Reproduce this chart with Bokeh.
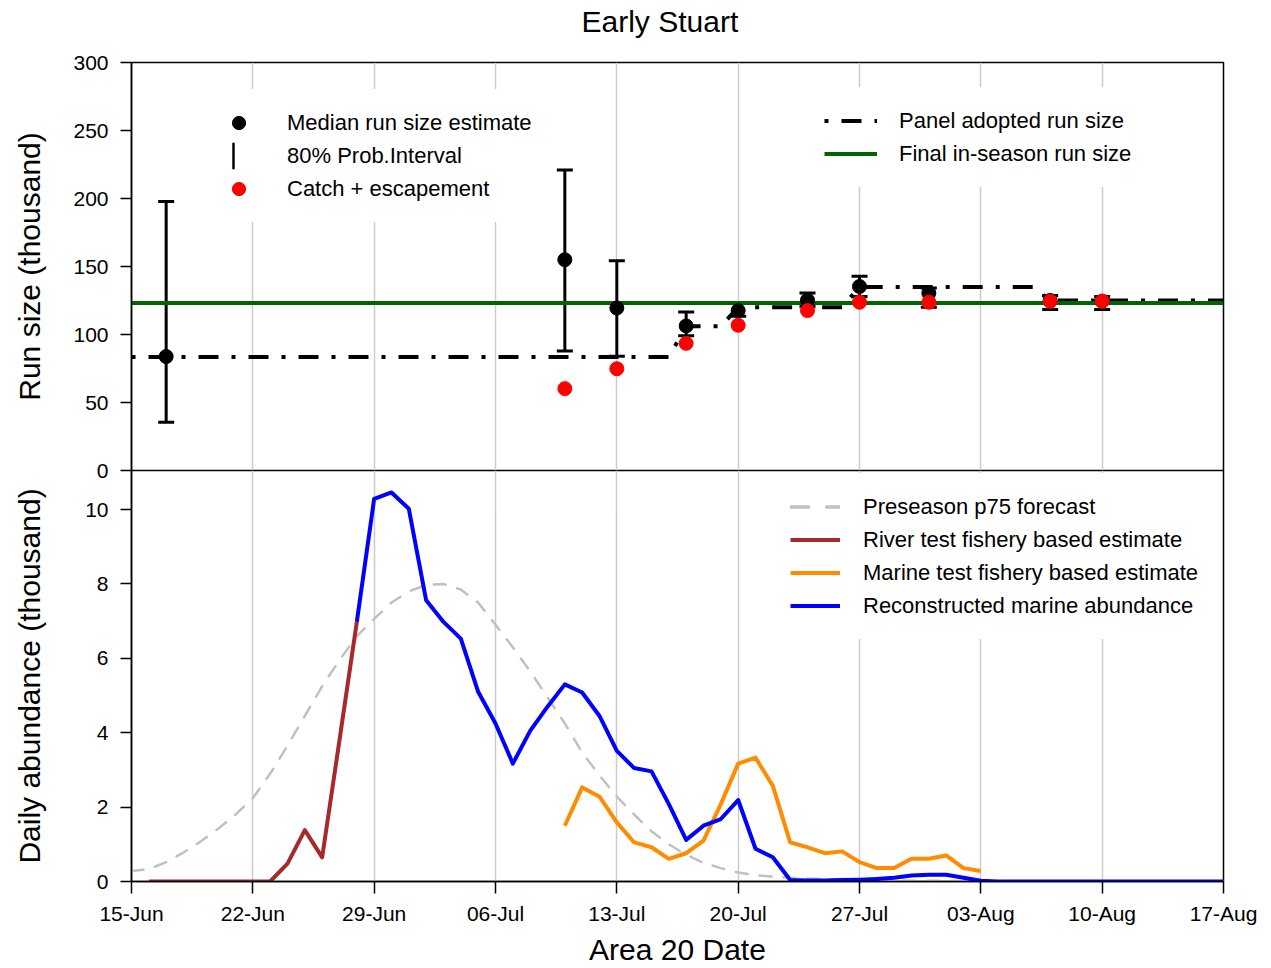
import pandas as pd
from bokeh.plotting import figure
from bokeh.layouts import column
from bokeh.models import (ColumnDataSource, Range1d, FixedTicker, DatetimeTickFormatter,
                          Whisker, TeeHead, Legend, LegendItem, Grid, Title)
from bokeh.embed import file_html
from bokeh.resources import INLINE

YEAR = 2021

# ---------------- data ----------------
week_ticks = ["06-15", "06-22", "06-29", "07-06", "07-13", "07-20",
              "07-27", "08-03", "08-10", "08-17"]
run_ticks = [0, 50, 100, 150, 200, 250, 300]
daily_ticks = [0, 2, 4, 6, 8, 10]

# top panel: run size estimates
est_dates = ["06-17", "07-10", "07-13", "07-17", "07-20", "07-24", "07-27", "07-31", "08-07", "08-10"]
median_est = [83.8, 155.0, 119.5, 106.3, 117.6, 125.2, 135.3, 130.5, 125.0, 124.5]
pi_lower = [35.4, 87.8, 84.0, 99.0, 113.5, 120.5, 128.0, 120.0, 118.3, 118.3]
pi_upper = [197.8, 221.0, 154.2, 116.6, 123.2, 130.6, 142.8, 134.2, 128.6, 128.0]

catch_dates = ["07-10", "07-13", "07-17", "07-20", "07-24", "07-27", "07-31", "08-07", "08-10"]
catch_esc = [60.2, 74.8, 93.5, 106.8, 117.6, 123.7, 123.7, 124.4, 124.4]

adopt_dates = ["06-15", "07-16", "07-17", "07-19", "07-20", "07-26", "07-27", "08-06", "08-07", "08-17"]
adopt_run = [83.4, 83.4, 106.0, 106.0, 120.0, 120.0, 135.0, 135.0, 125.0, 125.0]

final_dates = ["06-15", "08-17"]
final_run = [123.2, 123.2]

# bottom panel: daily abundance (thousand)
forecast_start = "06-15"
forecast_p75 = [0.28, 0.33, 0.52, 0.78, 1.08, 1.42, 1.80, 2.24, 2.90, 3.65, 4.45, 5.25, 5.95, 6.60,
                7.06, 7.50, 7.80, 7.97, 8.00, 7.85, 7.50, 6.90, 6.30, 5.65, 4.95, 4.25, 3.47, 2.85,
                2.28, 1.80, 1.35, 1.00, 0.72, 0.50, 0.36, 0.24, 0.17, 0.13, 0.10, 0.08, 0.06, 0.05,
                0.04, 0.03, 0.03, 0.02, 0.02, 0.02, 0.01, 0.01, 0.01, 0.01, 0.01, 0.01,
                0.0, 0.0, 0.0, 0.0, 0.0, 0.0, 0.0, 0.0, 0.0, 0.0]

river_start = "06-16"
river_est = [0.0, 0.0, 0.0, 0.0, 0.0, 0.0, 0.0, 0.0, 0.48, 1.38, 0.65, 3.80, 6.98]

marine_start = "07-10"
marine_est = [1.50, 2.53, 2.28, 1.59, 1.05, 0.92, 0.61, 0.76, 1.10, 2.08, 3.17, 3.33, 2.57,
              1.05, 0.92, 0.76, 0.81, 0.52, 0.36, 0.36, 0.61, 0.61, 0.70, 0.36, 0.28]

recon_start = "06-28"
recon_abund = [6.98, 10.29, 10.46, 10.02, 7.56, 6.98, 6.53, 5.10, 4.25, 3.17, 4.05, 4.70, 5.30,
               5.08, 4.45, 3.51, 3.05, 2.96, 2.08, 1.12, 1.50, 1.68, 2.19, 0.88, 0.65, 0.04,
               0.03, 0.03, 0.04, 0.05, 0.07, 0.10, 0.16, 0.18, 0.18, 0.10, 0.02,
               0.0, 0.0, 0.0, 0.0, 0.0, 0.0, 0.0, 0.0, 0.0, 0.0, 0.0, 0.0, 0.0, 0.0]


def dts(lst):
    return pd.to_datetime([f"{YEAR}-{s}" for s in lst])


def daily(start, vals):
    return pd.date_range(f"{YEAR}-{start}", periods=len(vals), freq="D")


FONT = "Liberation Sans"
W = 1271
ticks_dt = dts(week_ticks)
tick_ms = [t.value / 1e6 for t in ticks_dt]
x_range = Range1d(start=ticks_dt[0], end=ticks_dt[-1])
NAN = float("nan")


def style(p, yticks, ylabel, label_standoff):
    p.outline_line_color = "black"
    p.outline_line_width = 1.5
    p.background_fill_color = "white"
    for g in p.grid:
        g.visible = False
    p.add_layout(Grid(dimension=0, ticker=FixedTicker(ticks=tick_ms),
                      grid_line_color="#cccccc", grid_line_width=1.5))
    ax = p.yaxis[0]
    ax.ticker = FixedTicker(ticks=yticks)
    ax.major_tick_in = 0
    ax.major_tick_out = 11
    ax.minor_tick_out = 0
    ax.major_tick_line_color = "black"
    ax.major_tick_line_width = 1.5
    ax.axis_line_color = "black"
    ax.axis_line_width = 1.5
    ax.major_label_text_font = FONT
    ax.major_label_text_font_size = "21px"
    ax.major_label_text_color = "black"
    ax.major_label_standoff = 12
    ax.axis_label = ylabel
    ax.axis_label_text_font = FONT
    ax.axis_label_text_font_size = "30px"
    ax.axis_label_text_font_style = "normal"
    ax.axis_label_text_color = "black"
    ax.axis_label_standoff = label_standoff


def make_legend(items, loc, gw, standoff):
    return Legend(items=items, location=loc, orientation="vertical",
                  glyph_width=gw, glyph_height=33, label_height=33,
                  label_standoff=standoff, padding=17, spacing=0, margin=0,
                  border_line_alpha=0, background_fill_color="white", background_fill_alpha=1,
                  label_text_font=FONT, label_text_font_size="22px", label_text_color="black")


# ---------------- top panel ----------------
p1 = figure(width=W, height=482, x_range=x_range, y_range=Range1d(0, 300),
            x_axis_type="datetime", x_axis_location=None, title=None,
            output_backend="svg", toolbar_location=None,
            min_border_left=131, min_border_right=48, min_border_top=62, min_border_bottom=12)
style(p1, run_ticks, "Run size (thousand)", 24)
p1.border_fill_color = "white"
# spacer between title and frame, then the title itself
p1.add_layout(Title(text=" ", text_font=FONT, text_font_size="12px", standoff=9), "above")
p1.add_layout(Title(text="Early Stuart", align="left", offset=450, standoff=0,
                    text_font=FONT, text_font_size="30px", text_font_style="normal",
                    text_color="black"), "above")

est_src = ColumnDataSource(dict(date=dts(est_dates), median=median_est, lower=pi_lower, upper=pi_upper))
p1.add_layout(Whisker(source=est_src, base="date", upper="upper", lower="lower",
                      line_color="black", line_width=3,
                      upper_head=TeeHead(size=16, line_width=3, line_color="black"),
                      lower_head=TeeHead(size=16, line_width=3, line_color="black")))

r_adopt = p1.line(dts(adopt_dates), adopt_run, line_color="black", line_width=4,
                  line_dash="4 13 20 13")
r_final = p1.line(dts(final_dates), final_run, line_color="#006400", line_width=4)
r_med = p1.scatter(x="date", y="median", source=est_src, size=14, marker="circle",
                   fill_color="black", line_color="black")
r_catch = p1.scatter(dts(catch_dates), catch_esc, size=14, marker="circle",
                     fill_color="red", line_color="red")
# legend-only proxy for the interval bar: a single vertical hatch stroke (nothing drawn in the plot)
r_pi_leg = p1.quad(left=[NAN], right=[NAN], top=[NAN], bottom=[NAN],
                   fill_alpha=0, line_alpha=0, hatch_pattern="vertical_line",
                   hatch_scale=41, hatch_weight=2.5, hatch_color="black")

leg1 = make_legend([LegendItem(label="Median run size estimate", renderers=[r_med]),
                    LegendItem(label="80% Prob.Interval", renderers=[r_pi_leg]),
                    LegendItem(label="Catch + escapement", renderers=[r_catch])],
                   (64, 248), 53, 22)
leg2 = make_legend([LegendItem(label="Panel adopted run size", renderers=[r_adopt]),
                    LegendItem(label="Final in-season run size", renderers=[r_final])],
                   (676, 283), 53, 22)
p1.add_layout(leg1)
p1.add_layout(leg2)

# ---------------- bottom panel ----------------
p2 = figure(width=W, height=498, x_range=x_range, y_range=Range1d(0, 11.05),
            x_axis_type="datetime", title=None,
            output_backend="svg", toolbar_location=None,
            min_border_left=131, min_border_right=48, min_border_top=0, min_border_bottom=86)
style(p2, daily_ticks, "Daily abundance (thousand)", 36)
p2.border_fill_alpha = 0
p2.styles = {"margin-top": "-12px"}

xa = p2.xaxis[0]
xa.ticker = FixedTicker(ticks=tick_ms)
fmt = "%d-%b"
xa.formatter = DatetimeTickFormatter(microseconds=fmt, milliseconds=fmt, seconds=fmt, minsec=fmt,
                                     minutes=fmt, hourmin=fmt, hours=fmt, days=fmt,
                                     months=fmt, years=fmt)
xa.major_tick_in = 0
xa.major_tick_out = 12
xa.minor_tick_out = 0
xa.major_tick_line_color = "black"
xa.major_tick_line_width = 1.5
xa.axis_line_color = "black"
xa.axis_line_width = 1.5
xa.major_label_text_font = FONT
xa.major_label_text_font_size = "21px"
xa.major_label_text_color = "black"
xa.major_label_standoff = 8
xa.axis_label = "Area 20 Date"
xa.axis_label_text_font = FONT
xa.axis_label_text_font_size = "30px"
xa.axis_label_text_font_style = "normal"
xa.axis_label_text_color = "black"
xa.axis_label_standoff = 5

fc_src = ColumnDataSource(dict(date=daily(forecast_start, forecast_p75), v=forecast_p75))
p2.line(x="date", y="v", source=fc_src, line_color="#c0c0c0",
        line_width=2.5, line_dash="12 12", line_cap="round")
r_river = p2.line(daily(river_start, river_est), river_est, line_color="#a52a2a",
                  line_width=4, line_join="round")
r_marine = p2.line(daily(marine_start, marine_est), marine_est, line_color="#ff8c00",
                   line_width=4, line_join="round")
r_recon = p2.line(daily(recon_start, recon_abund), recon_abund, line_color="#0000ff",
                  line_width=4, line_join="round")
# legend-only proxy for the forecast line style (nothing drawn in the plot)
r_fc_leg = p2.multi_line(xs=[[]], ys=[[]], line_color="#c0c0c0", line_width=3.5,
                         line_dash="18 18", line_cap="round")

leg3 = make_legend([LegendItem(label="Preseason p75 forecast", renderers=[r_fc_leg]),
                    LegendItem(label="River test fishery based estimate", renderers=[r_river]),
                    LegendItem(label="Marine test fishery based estimate", renderers=[r_marine]),
                    LegendItem(label="Reconstructed marine abundance", renderers=[r_recon])],
                   (642, 242), 50, 23)
p2.add_layout(leg3)

layout = column(p1, p2, spacing=0)
open("out.html", "w").write(file_html(layout, INLINE))
